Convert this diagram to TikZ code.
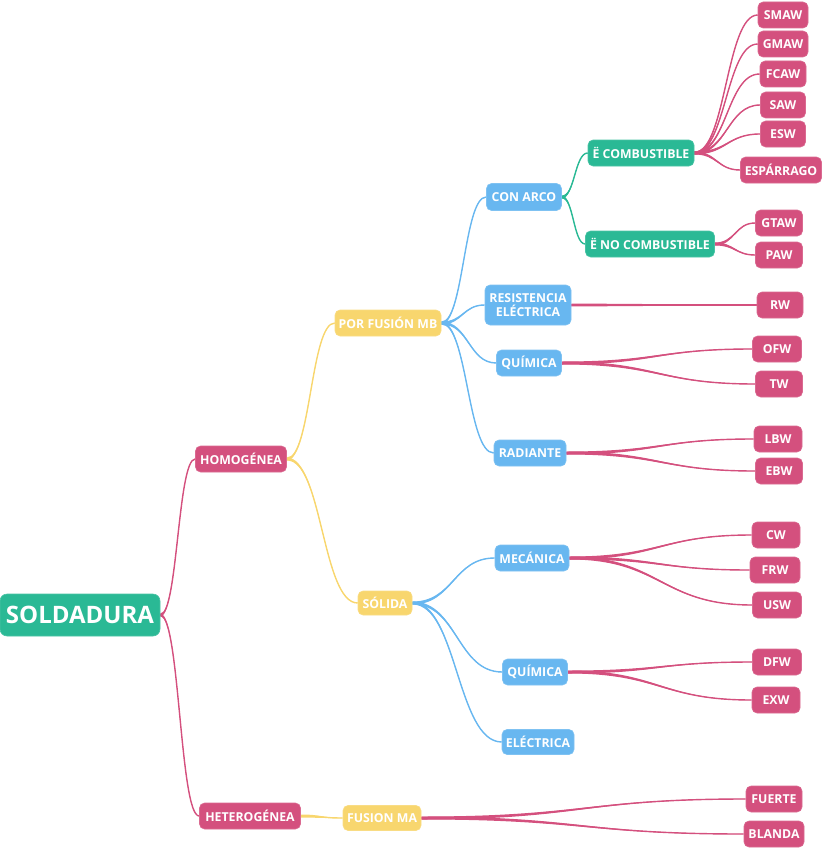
\documentclass[tikz,border=0pt]{standalone}
\usepackage{fontspec}
\setmainfont{Open Sans}
\usetikzlibrary{calc,backgrounds}
\definecolor{mmpink}{RGB}{212,80,126}
\definecolor{mmgreen}{RGB}{42,185,149}
\definecolor{mmblue}{RGB}{104,183,240}
\definecolor{mmyellow}{RGB}{248,214,110}
\newcommand\mmedge[3]{%
  \draw[#1, line width=1.4pt] let \p1=(#2.east), \p2=(#3.west), \n1={(\x1+\x2)/2} in
    (\p1) .. controls (\n1,\y1) and (\n1,\y2) .. (\p2);
  \fill[#1] let \p1=(#2.east), \p2=(#3.west), \n1={(\x1+\x2)/2} in
    (\x1,\y1+1.5pt) .. controls (\n1,\y1+1.5pt) and (\n1,\y2+0.2pt) .. (\x2,\y2+0.2pt)
    -- (\x2,\y2-0.2pt) .. controls (\n1,\y2-0.2pt) and (\n1,\y1-1.5pt) .. (\x1,\y1-1.5pt) -- cycle;
}
\tikzset{
  box/.style={rounded corners=5pt, text=white, inner sep=0pt, align=center,
    font=\fontsize{12.3}{13}\selectfont\bfseries},
  pinkbox/.style={box, fill=mmpink, draw=mmpink!85!white, line width=0.6pt},
  greenbox/.style={box, fill=mmgreen, draw=mmgreen!85!white, line width=0.6pt},
  bluebox/.style={box, fill=mmblue, draw=mmblue!85!white, line width=0.6pt},
  yellowbox/.style={box, fill=mmyellow, draw=mmyellow!85!white, line width=0.6pt},
  sz/.style n args={2}{minimum width=#1pt, minimum height=#2pt}
}
\begin{document}
\begin{tikzpicture}[x=1pt,y=-1pt]
\useasboundingbox (0,0) rectangle (822,848);
% nodes
\node[greenbox, sz={160}{42}, rounded corners=7pt, font=\fontsize{24}{26}\selectfont\bfseries] (root) at (80,615) {SOLDADURA};
\node[pinkbox, sz={91}{26}] (hom) at (241,459) {HOMOGÉNEA};
\node[pinkbox, sz={101}{26}] (het) at (250,816) {HETEROGÉNEA};
\node[yellowbox, sz={106}{26}] (pfmb) at (388,323) {POR FUSIÓN MB};
\node[yellowbox, sz={54}{24}] (sol) at (385,603) {SÓLIDA};
\node[yellowbox, sz={78}{25}] (fma) at (382,818) {FUSION MA};
\node[bluebox, sz={75}{27}] (carco) at (524,197) {CON ARCO};
\node[bluebox, sz={86}{40}, font=\fontsize{12.3}{14}\selectfont\bfseries] (res) at (528,305) {RESISTENCIA\\ELÉCTRICA};
\node[bluebox, sz={65}{26}] (quia) at (529,363) {QUÍMICA};
\node[bluebox, sz={72}{26}] (rad) at (530,453) {RADIANTE};
\node[bluebox, sz={74}{26}] (mec) at (532,558) {MECÁNICA};
\node[bluebox, sz={65}{26}] (quib) at (535,672) {QUÍMICA};
\node[bluebox, sz={72}{25}] (ele) at (538,742) {ELÉCTRICA};
\node[greenbox, sz={106}{26}] (ecomb) at (641,153) {Ë COMBUSTIBLE};
\node[greenbox, sz={129}{26}] (enocomb) at (650,244) {Ë NO COMBUSTIBLE};
\node[pinkbox, sz={50}{26}] (smaw) at (783,15) {SMAW};
\node[pinkbox, sz={50}{26}] (gmaw) at (783,44) {GMAW};
\node[pinkbox, sz={46}{26}] (fcaw) at (783,74) {FCAW};
\node[pinkbox, sz={45}{26}] (saw) at (783,105) {SAW};
\node[pinkbox, sz={45}{26}] (esw) at (783,134) {ESW};
\node[pinkbox, sz={81}{26}] (esp) at (781,170) {ESPÁRRAGO};
\node[pinkbox, sz={47}{26}] (gtaw) at (779,223) {GTAW};
\node[pinkbox, sz={47}{26}] (paw) at (779,255) {PAW};
\node[pinkbox, sz={46}{26}] (rw) at (780,305) {RW};
\node[pinkbox, sz={49}{26}] (ofw) at (777,349) {OFW};
\node[pinkbox, sz={47}{26}] (tw) at (779,384) {TW};
\node[pinkbox, sz={48}{26}] (lbw) at (778,439) {LBW};
\node[pinkbox, sz={47}{26}] (ebw) at (779,471) {EBW};
\node[pinkbox, sz={48}{26}] (cw) at (776,535) {CW};
\node[pinkbox, sz={50}{26}] (frw) at (775,570) {FRW};
\node[pinkbox, sz={49}{26}] (usw) at (777,605) {USW};
\node[pinkbox, sz={49}{26}] (dfw) at (777,662) {DFW};
\node[pinkbox, sz={48}{26}] (exw) at (776,700) {EXW};
\node[pinkbox, sz={56}{26}] (fuerte) at (774,799) {FUERTE};
\node[pinkbox, sz={60}{26}] (blanda) at (774,834) {BLANDA};
% connectors
\begin{pgfonlayer}{background}
\mmedge{mmpink}{root}{hom}
\mmedge{mmpink}{root}{het}
\mmedge{mmyellow}{hom}{pfmb}
\mmedge{mmyellow}{hom}{sol}
\mmedge{mmyellow}{het}{fma}
\mmedge{mmblue}{pfmb}{carco}
\mmedge{mmblue}{pfmb}{res}
\mmedge{mmblue}{pfmb}{quia}
\mmedge{mmblue}{pfmb}{rad}
\mmedge{mmblue}{sol}{mec}
\mmedge{mmblue}{sol}{quib}
\mmedge{mmblue}{sol}{ele}
\mmedge{mmgreen}{carco}{ecomb}
\mmedge{mmgreen}{carco}{enocomb}
\mmedge{mmpink}{ecomb}{smaw}
\mmedge{mmpink}{ecomb}{gmaw}
\mmedge{mmpink}{ecomb}{fcaw}
\mmedge{mmpink}{ecomb}{saw}
\mmedge{mmpink}{ecomb}{esw}
\mmedge{mmpink}{ecomb}{esp}
\mmedge{mmpink}{enocomb}{gtaw}
\mmedge{mmpink}{enocomb}{paw}
\mmedge{mmpink}{res}{rw}
\mmedge{mmpink}{quia}{ofw}
\mmedge{mmpink}{quia}{tw}
\mmedge{mmpink}{rad}{lbw}
\mmedge{mmpink}{rad}{ebw}
\mmedge{mmpink}{mec}{cw}
\mmedge{mmpink}{mec}{frw}
\mmedge{mmpink}{mec}{usw}
\mmedge{mmpink}{quib}{dfw}
\mmedge{mmpink}{quib}{exw}
\mmedge{mmpink}{fma}{fuerte}
\mmedge{mmpink}{fma}{blanda}
\end{pgfonlayer}
\end{tikzpicture}
\end{document}
